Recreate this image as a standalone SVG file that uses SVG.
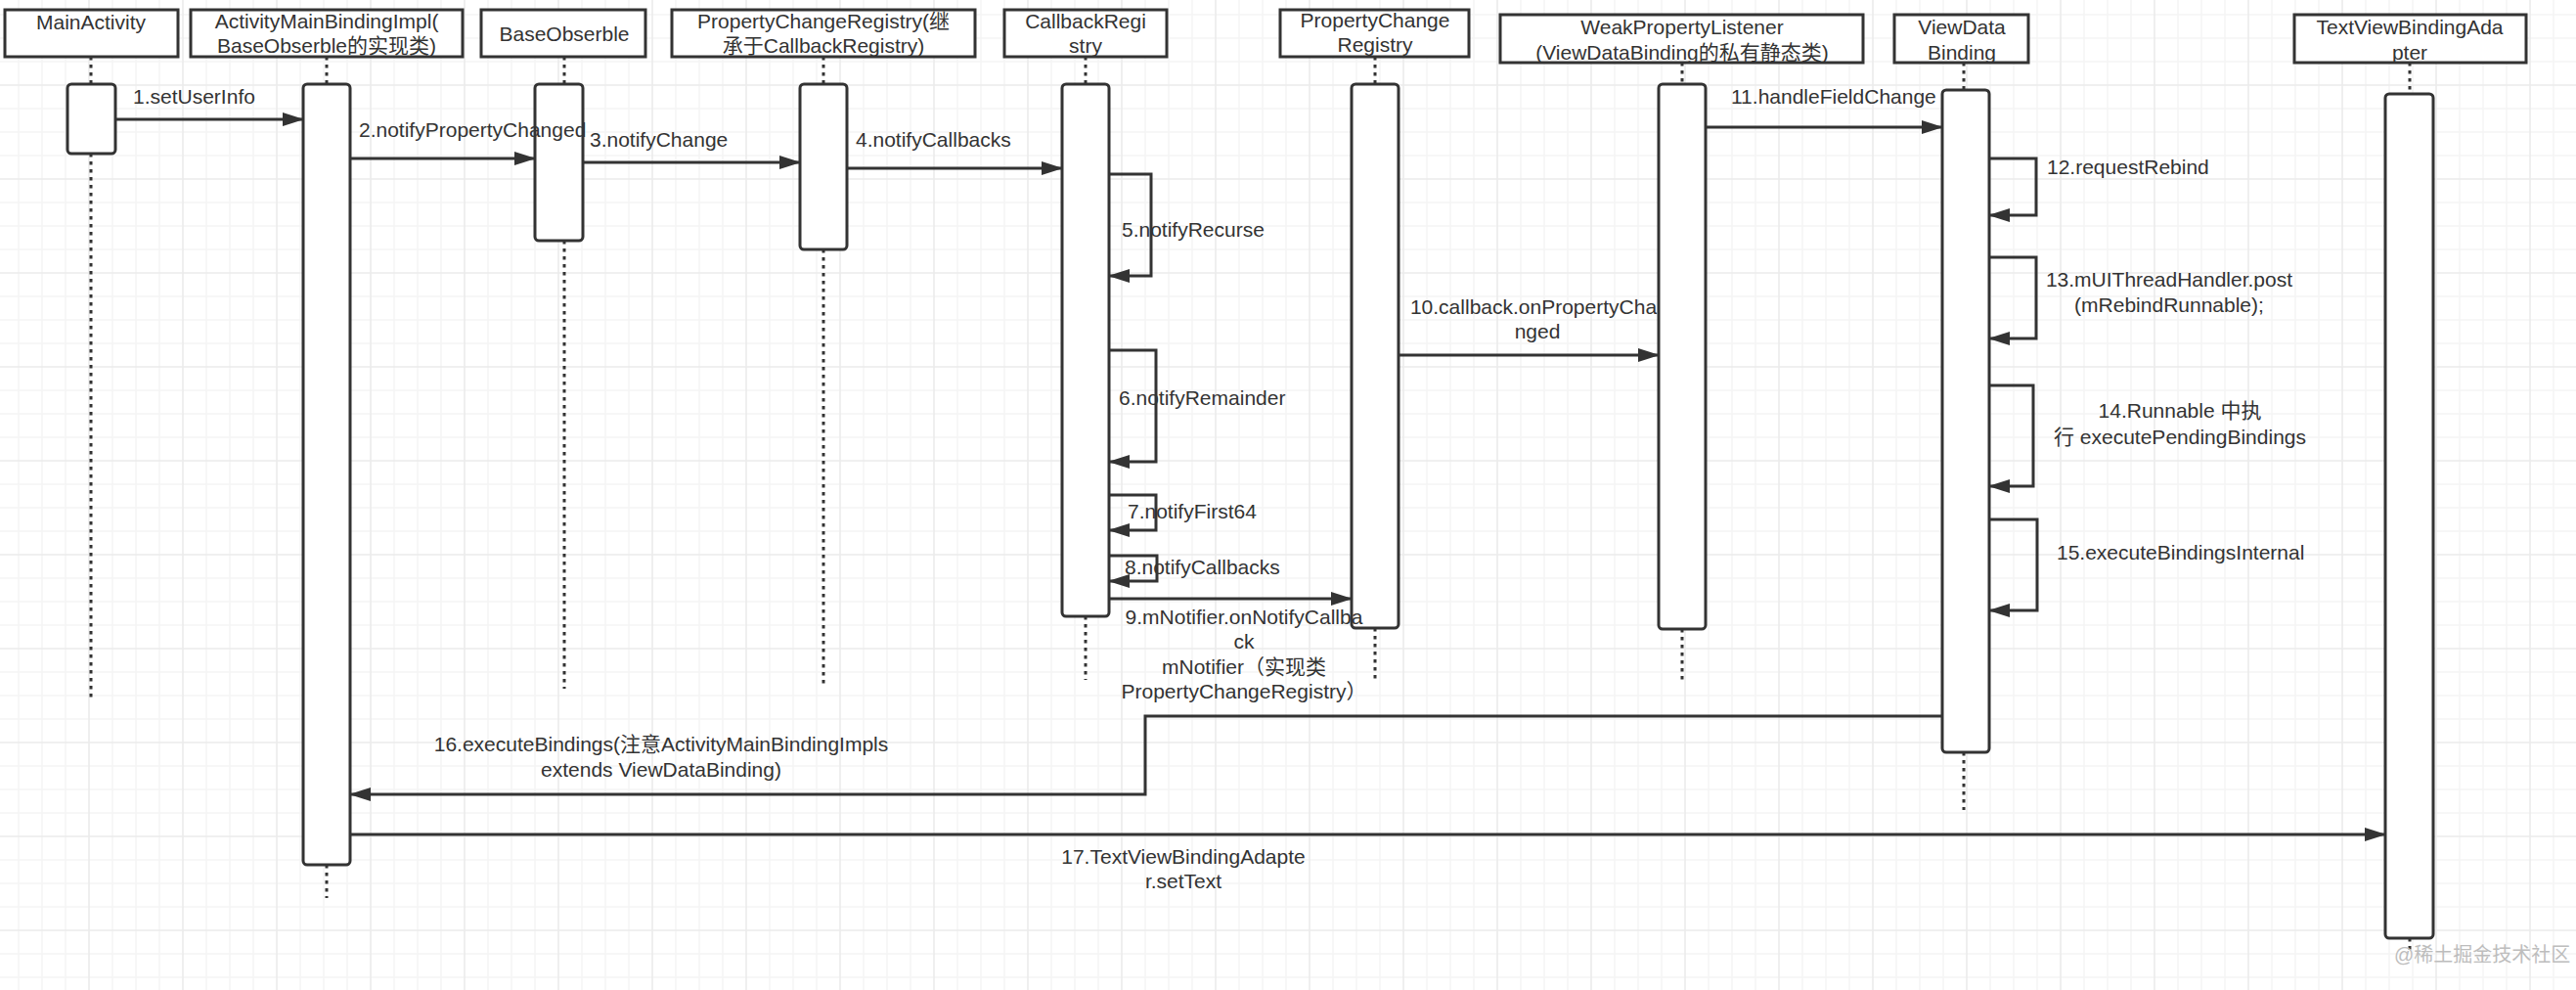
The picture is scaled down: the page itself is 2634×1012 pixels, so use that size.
<svg xmlns="http://www.w3.org/2000/svg" width="2634" height="1012" viewBox="0 0 2634 1012">
<style>
  .hdr { fill: #ffffff; stroke: #333333; stroke-width: 3; }
  .bar { fill: #ffffff; stroke: #333333; stroke-width: 3; }
  .life { stroke: #333333; stroke-width: 3; stroke-dasharray: 3.5 4.5; fill: none; }
  .conn { stroke: #333333; stroke-width: 3; fill: none; marker-end: url(#arrow); }
  text { font-family: "Liberation Sans", Arial, "Noto Sans CJK SC", sans-serif; font-size: 21px; fill: #333333; }
  .c { text-anchor: middle; }
  .wm { fill: #bdbdbd; font-size: 20px; }
</style>
<defs>
  <marker id="arrow" markerUnits="userSpaceOnUse" markerWidth="22" markerHeight="14" viewBox="0 0 22 14" refX="21" refY="7" orient="auto">
    <path d="M0,0 L22,7 L0,14 Z" fill="#333333"/>
  </marker>
  <pattern id="grid" patternUnits="userSpaceOnUse" x="18" y="14" width="96" height="96">
    <path d="M1,0 V96 M25,0 V96 M49,0 V96 M0,1 H96 M0,25 H96 M0,49 H96" stroke="#f5f5f5" stroke-width="1.6"/>
    <path d="M73,0 V96 M0,73 H96" stroke="#ebebeb" stroke-width="1.6"/>
  </pattern>
</defs>
<rect x="0" y="0" width="2634" height="1012" fill="#ffffff"/>
<rect x="0" y="0" width="2634" height="1012" fill="url(#grid)"/>

<g id="lifelines">
  <path class="life" d="M93,58 V86 M93,157 V717"/>
  <path class="life" d="M334,58 V86 M334,884 V918"/>
  <path class="life" d="M577,58 V86 M577,246 V704"/>
  <path class="life" d="M842,58 V86 M842,255 V702"/>
  <path class="life" d="M1110,58 V86 M1110,630 V695"/>
  <path class="life" d="M1406,58 V86 M1406,642 V695"/>
  <path class="life" d="M1720,64 V86 M1720,643 V697"/>
  <path class="life" d="M2008,64 V92 M2008,769 V828"/>
  <path class="life" d="M2464,64 V96 M2464,959 V972"/>
</g>

<g id="node-mainactivity">
  <rect class="hdr" x="5" y="10" width="177" height="48"/>
  <text class="c" x="93" y="30">MainActivity</text>
  <rect class="bar" x="69" y="86" width="49" height="71" rx="4"/>
</g>
<g id="node-activitymainbindingimpl">
  <rect class="hdr" x="195" y="10" width="278" height="48"/>
  <text class="c" x="334" y="29">ActivityMainBindingImpl(</text>
  <text class="c" x="334" y="54">BaseObserble的实现类)</text>
  <rect class="bar" x="310" y="86" width="48" height="798" rx="4"/>
</g>
<g id="node-baseobserble">
  <rect class="hdr" x="492" y="10" width="168" height="48"/>
  <text class="c" x="577" y="42">BaseObserble</text>
  <rect class="bar" x="547" y="86" width="49" height="160" rx="4"/>
</g>
<g id="node-propertychangeregistry">
  <rect class="hdr" x="687" y="10" width="310" height="48"/>
  <text class="c" x="842" y="29">PropertyChangeRegistry(继</text>
  <text class="c" x="842" y="54">承于CallbackRegistry)</text>
  <rect class="bar" x="818" y="86" width="48" height="169" rx="4"/>
</g>
<g id="node-callbackregistry">
  <rect class="hdr" x="1027" y="10" width="166" height="48"/>
  <text class="c" x="1110" y="29">CallbackRegi</text>
  <text class="c" x="1110" y="54">stry</text>
  <rect class="bar" x="1086" y="86" width="48" height="544" rx="4"/>
</g>
<g id="node-propertychangeregistry2">
  <rect class="hdr" x="1309" y="10" width="193" height="48"/>
  <text class="c" x="1406" y="28">PropertyChange</text>
  <text class="c" x="1406" y="53">Registry</text>
  <rect class="bar" x="1382" y="86" width="48" height="556" rx="4"/>
</g>
<g id="node-weakpropertylistener">
  <rect class="hdr" x="1534" y="15" width="371" height="49"/>
  <text class="c" x="1720" y="35">WeakPropertyListener</text>
  <text class="c" x="1720" y="61">(ViewDataBinding的私有静态类)</text>
  <rect class="bar" x="1696" y="86" width="48" height="557" rx="4"/>
</g>
<g id="node-viewdatabinding">
  <rect class="hdr" x="1937" y="15" width="137" height="49"/>
  <text class="c" x="2006" y="35">ViewData</text>
  <text class="c" x="2006" y="61">Binding</text>
  <rect class="bar" x="1986" y="92" width="48" height="677" rx="4"/>
</g>
<g id="node-textviewbindingadapter">
  <rect class="hdr" x="2346" y="15" width="237" height="49"/>
  <text class="c" x="2464" y="35">TextViewBindingAda</text>
  <text class="c" x="2464" y="61">pter</text>
  <rect class="bar" x="2439" y="96" width="49" height="863" rx="4"/>
</g>

<g id="connectors">
  <path class="conn" d="M118,122 H310"/>
  <path class="conn" d="M358,162 H547"/>
  <path class="conn" d="M596,166 H818"/>
  <path class="conn" d="M866,172 H1086"/>
  <path class="conn" d="M1134,178 H1177 V282 H1134"/>
  <path class="conn" d="M1134,358 H1182 V472 H1134"/>
  <path class="conn" d="M1134,506 H1182 V542 H1134"/>
  <path class="conn" d="M1134,568 H1183 V594 H1134"/>
  <path class="conn" d="M1134,612 H1382"/>
  <path class="conn" d="M1430,363 H1696"/>
  <path class="conn" d="M1744,130 H1986"/>
  <path class="conn" d="M2034,162 H2082 V220 H2034"/>
  <path class="conn" d="M2034,263 H2082 V346 H2034"/>
  <path class="conn" d="M2034,394 H2079 V497 H2034"/>
  <path class="conn" d="M2034,531 H2083 V624 H2034"/>
  <path class="conn" d="M1986,732 H1171 V812 H358"/>
  <path class="conn" d="M358,853 H2439"/>
</g>

<g id="labels">
  <text x="136" y="106">1.setUserInfo</text>
  <text x="367" y="140">2.notifyPropertyChanged</text>
  <text x="603" y="150">3.notifyChange</text>
  <text x="875" y="150">4.notifyCallbacks</text>
  <text x="1147" y="242">5.notifyRecurse</text>
  <text x="1144" y="414">6.notifyRemainder</text>
  <text x="1153" y="530">7.notifyFirst64</text>
  <text x="1150" y="587">8.notifyCallbacks</text>
  <text class="c" x="1272" y="638">9.mNotifier.onNotifyCallba</text>
  <text class="c" x="1272" y="663">ck</text>
  <text class="c" x="1272" y="689">mNotifier（实现类</text>
  <text class="c" x="1272" y="714">PropertyChangeRegistry）</text>
  <text class="c" x="1568" y="321">10.callback.onPropertyCha</text>
  <text class="c" x="1572" y="346">nged</text>
  <text x="1770" y="106">11.handleFieldChange</text>
  <text x="2093" y="178">12.requestRebind</text>
  <text class="c" x="2218" y="293">13.mUIThreadHandler.post</text>
  <text class="c" x="2218" y="319">(mRebindRunnable);</text>
  <text class="c" x="2229" y="427">14.Runnable 中执</text>
  <text class="c" x="2229" y="454">行 executePendingBindings</text>
  <text x="2103" y="572">15.executeBindingsInternal</text>
  <text class="c" x="676" y="768">16.executeBindings(注意ActivityMainBindingImpls</text>
  <text class="c" x="676" y="794">extends ViewDataBinding)</text>
  <text class="c" x="1210" y="883">17.TextViewBindingAdapte</text>
  <text class="c" x="1210" y="908">r.setText</text>
</g>
<text class="wm" x="2448" y="983">@稀土掘金技术社区</text>
</svg>
